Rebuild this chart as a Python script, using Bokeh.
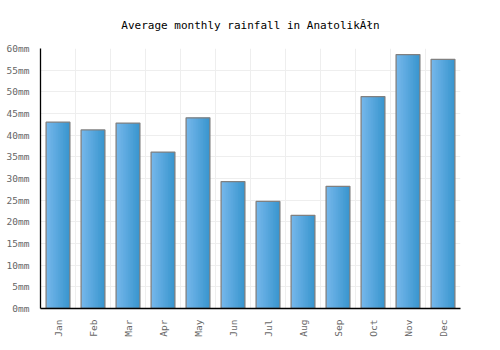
import numpy as np
from bokeh.plotting import figure
from bokeh.models import Range1d, FixedTicker, PrintfTickFormatter, Grid
from bokeh.embed import file_html
from bokeh.resources import INLINE

months = ["Jan", "Feb", "Mar", "Apr", "May", "Jun", "Jul", "Aug", "Sep", "Oct", "Nov", "Dec"]
rainfall = [43.0, 41.2, 42.8, 36.1, 44.0, 29.3, 24.7, 21.5, 28.2, 48.9, 58.6, 57.5]
y_ticks = list(range(0, 61, 5))

FONT = "DejaVu Sans Mono"
BAR_W = 0.68
N_STRIPS = 14

p = figure(width=500, height=350, output_backend="svg", toolbar_location=None,
           x_range=Range1d(0, 12), y_range=Range1d(0, 60),
           min_border_left=40, min_border_right=40, min_border_top=48, min_border_bottom=42)
p.title.text = "Average monthly rainfall in AnatolikĂłn"
p.title.align = "center"
p.title.text_font = FONT
p.title.text_font_size = "11px"
p.title.text_font_style = "normal"
p.title.text_color = "#000000"
p.title.standoff = 30
p.title.offset = 0
p.title.vertical_align = "top"
p.outline_line_color = None
p.background_fill_color = "white"
p.border_fill_color = "white"

centers = np.arange(len(months)) + 0.5

# gradient bars via thin overlapping strips
c0 = np.array([0x74, 0xb6, 0xea])
c1 = np.array([0x3a, 0x96, 0xcf])
sw = BAR_W / N_STRIPS
for k in range(N_STRIPS):
    t = k / (N_STRIPS - 1)
    col = c0 * (1 - t) + c1 * t
    hexcol = "#%02x%02x%02x" % tuple(int(round(v)) for v in col)
    if k < N_STRIPS - 1:
        xs = centers - BAR_W / 2 + sw * (k + 1)
        w = sw * 2
    else:
        xs = centers - BAR_W / 2 + sw * (k + 0.5)
        w = sw
    p.vbar(x=xs, top=rainfall, bottom=0, width=w, fill_color=hexcol, line_color=None)

p.vbar(x=centers, top=rainfall, bottom=0, width=BAR_W, fill_color=None,
       line_color="#808080", line_width=1.3)

# grids
p.xgrid.visible = False
p.ygrid.grid_line_color = "#eeeeee"
p.ygrid.ticker = FixedTicker(ticks=y_ticks)
vgrid = Grid(dimension=0, ticker=FixedTicker(ticks=list(range(0, 13))), grid_line_color="#eeeeee")
p.add_layout(vgrid)

# axes
p.xaxis.ticker = FixedTicker(ticks=list(centers))
p.xaxis.major_label_overrides = {float(c): m for c, m in zip(centers, months)}
p.xaxis.major_label_orientation = np.pi / 2
p.yaxis.ticker = FixedTicker(ticks=y_ticks)
p.yaxis.formatter = PrintfTickFormatter(format="%dmm")
for ax in (p.xaxis, p.yaxis):
    ax.axis_line_color = "#000000"
    ax.axis_line_width = 1.3
    ax.major_tick_line_color = None
    ax.minor_tick_line_color = None
    ax.major_label_text_font = FONT
    ax.major_label_text_font_size = "9.5px"
    ax.major_label_text_color = "#666666"
    ax.major_label_standoff = 5

open("out.html", "w").write(file_html(p, INLINE))
